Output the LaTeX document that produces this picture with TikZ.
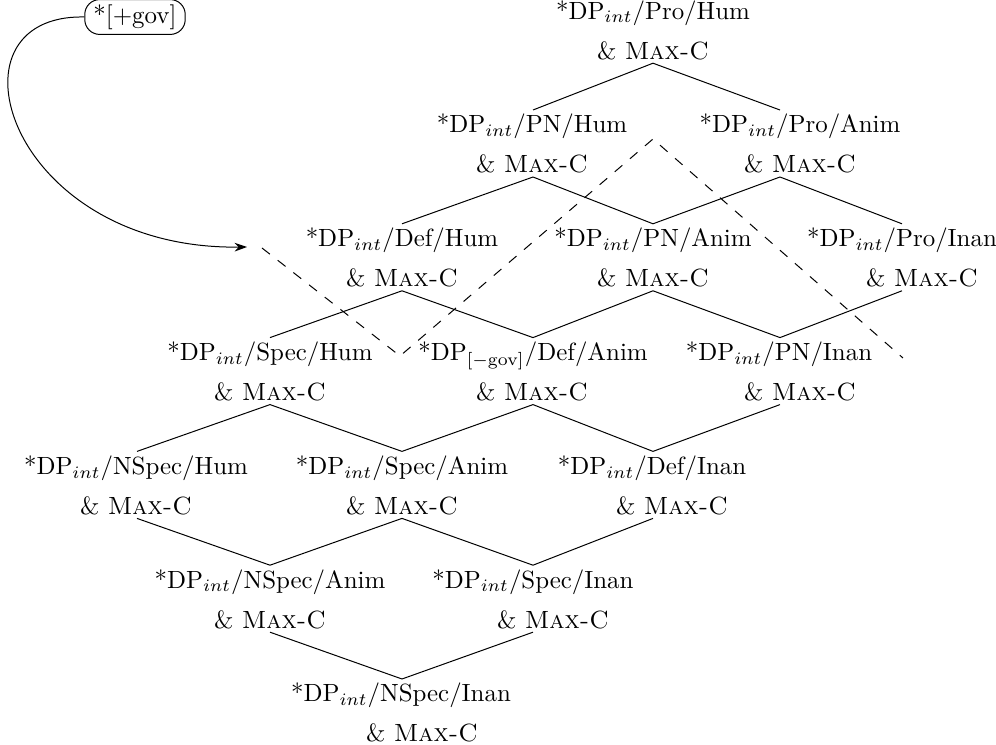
\documentclass[tikz,border=0pt]{standalone}
\usetikzlibrary{arrows.meta}
\newcommand\lattitem[6]{% name, edge x, top y, line1 x, line2 x, text
  \coordinate (#1-t) at (#2,{#3});
  \coordinate (#1-b) at (#2,{#3+67});
  \node[lbl] (#1) at (#4,{#3+23}) {#6};
  \node[lbl] (#1-2) at (#5,{#3+63}) {\& \textsc{Max-C}};
}
\begin{document}
\begin{tikzpicture}[x=0.4016pt,y=-0.4016pt,
  lbl/.style={anchor=base,inner sep=0pt},
  edge/.style={line width=0.4pt},
  dashline/.style={dash pattern=on 4pt off 4pt,line width=0.4pt},
  govbox/.style={draw,rounded corners=6pt,inner xsep=3.5pt,inner ysep=2pt}]
\useasboundingbox (0,0) rectangle (996,745);
% rows: top junction y
\def\rA{-3.8}\def\rB{110}\def\rC{223.8}\def\rD{337.6}\def\rE{451.4}\def\rF{565.2}\def\rG{679}
\lattitem{prohum}{653}{\rA}{653}{653}{*DP$_{int}$/Pro/Hum}
\lattitem{pnhum}{533}{\rB}{532}{532}{*DP$_{int}$/PN/Hum}
\lattitem{proanim}{780}{\rB}{800}{800}{*DP$_{int}$/Pro/Anim}
\lattitem{defhum}{402}{\rC}{402}{402}{*DP$_{int}$/Def/Hum}
\lattitem{pnanim}{653}{\rC}{653}{653}{*DP$_{int}$/PN/Anim}
\lattitem{proinan}{902}{\rC}{902}{922}{*DP$_{int}$/Pro/Inan}
\lattitem{spechum}{270}{\rD}{270}{270}{*DP$_{int}$/Spec/Hum}
\lattitem{defanim}{533}{\rD}{533}{532}{*DP$_{[-\mathrm{gov}]}$/Def/Anim}
\lattitem{pninan}{780}{\rD}{779}{800}{*DP$_{int}$/PN/Inan}
\lattitem{nspechum}{137}{\rE}{136}{136}{*DP$_{int}$/NSpec/Hum}
\lattitem{specanim}{402}{\rE}{402}{402}{*DP$_{int}$/Spec/Anim}
\lattitem{definan}{653}{\rE}{652}{672}{*DP$_{int}$/Def/Inan}
\lattitem{nspecanim}{270}{\rF}{270}{270}{*DP$_{int}$/NSpec/Anim}
\lattitem{specinan}{533}{\rF}{533}{553}{*DP$_{int}$/Spec/Inan}
\lattitem{nspecinan}{402}{\rG}{401}{422}{*DP$_{int}$/NSpec/Inan}
% lattice edges
\draw[edge] (prohum-b) -- (pnhum-t);
\draw[edge] (prohum-b) -- (proanim-t);
\draw[edge] (pnhum-b) -- (defhum-t);
\draw[edge] (pnhum-b) -- (pnanim-t);
\draw[edge] (proanim-b) -- (pnanim-t);
\draw[edge] (proanim-b) -- (proinan-t);
\draw[edge] (defhum-b) -- (spechum-t);
\draw[edge] (defhum-b) -- (defanim-t);
\draw[edge] (pnanim-b) -- (defanim-t);
\draw[edge] (pnanim-b) -- (pninan-t);
\draw[edge] (proinan-b) -- (pninan-t);
\draw[edge] (spechum-b) -- (nspechum-t);
\draw[edge] (spechum-b) -- (specanim-t);
\draw[edge] (defanim-b) -- (specanim-t);
\draw[edge] (defanim-b) -- (definan-t);
\draw[edge] (pninan-b) -- (definan-t);
\draw[edge] (nspechum-b) -- (nspecanim-t);
\draw[edge] (specanim-b) -- (nspecanim-t);
\draw[edge] (specanim-b) -- (specinan-t);
\draw[edge] (definan-b) -- (specinan-t);
\draw[edge] (nspecanim-b) -- (nspecinan-t);
\draw[edge] (specinan-b) -- (nspecinan-t);
% dashed boundary
\coordinate (d1) at (262,248);
\coordinate (d2) at (400,356);
\coordinate (d3) at (653,139);
\coordinate (d4) at (903,358);
\draw[dashline] (d1) -- (d2) -- (d3) -- (d4);
% governing constraint
\node[govbox] (gov) at (135,17) {*[+gov]};
\coordinate (govtip) at (247,247);
\draw[edge,-{Stealth[length=5pt,width=3.5pt]}] (gov.west) .. controls (-62,14) and (8,250) .. (govtip);
\end{tikzpicture}
\end{document}
